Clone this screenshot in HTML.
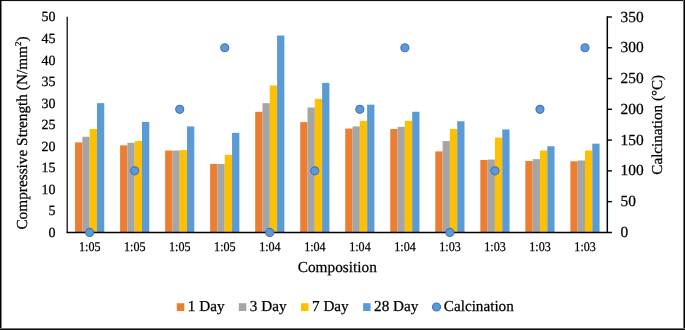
<!DOCTYPE html>
<html><head><meta charset="utf-8"><style>
html,body{margin:0;padding:0;background:#fff;}
.frame{position:relative;width:685px;height:330px;overflow:hidden;}
svg{position:absolute;left:0;top:0;will-change:transform;}
text{font-family:"Liberation Serif", serif;fill:#000;text-rendering:geometricPrecision;stroke:#000;stroke-width:0.25px;}
</style></head><body><div class="frame">
<svg width="685" height="330" viewBox="0 0 685 330">
<rect x="75.06" y="142.36" width="7.30" height="90.04" fill="#ED7D31"/>
<rect x="82.36" y="136.76" width="7.30" height="95.64" fill="#A5A5A5"/>
<rect x="89.66" y="129.01" width="7.30" height="103.39" fill="#FFC000"/>
<rect x="96.96" y="103.16" width="7.30" height="129.24" fill="#5B9BD5"/>
<rect x="120.09" y="145.38" width="7.30" height="87.02" fill="#ED7D31"/>
<rect x="127.39" y="142.79" width="7.30" height="89.61" fill="#A5A5A5"/>
<rect x="134.69" y="141.07" width="7.30" height="91.33" fill="#FFC000"/>
<rect x="141.99" y="121.90" width="7.30" height="110.50" fill="#5B9BD5"/>
<rect x="165.12" y="150.55" width="7.30" height="81.85" fill="#ED7D31"/>
<rect x="172.42" y="150.55" width="7.30" height="81.85" fill="#A5A5A5"/>
<rect x="179.72" y="150.12" width="7.30" height="82.28" fill="#FFC000"/>
<rect x="187.02" y="126.42" width="7.30" height="105.98" fill="#5B9BD5"/>
<rect x="210.15" y="163.90" width="7.30" height="68.50" fill="#ED7D31"/>
<rect x="217.45" y="163.90" width="7.30" height="68.50" fill="#A5A5A5"/>
<rect x="224.75" y="154.86" width="7.30" height="77.54" fill="#FFC000"/>
<rect x="232.05" y="132.89" width="7.30" height="99.51" fill="#5B9BD5"/>
<rect x="255.18" y="111.78" width="7.30" height="120.62" fill="#ED7D31"/>
<rect x="262.48" y="103.16" width="7.30" height="129.24" fill="#A5A5A5"/>
<rect x="269.78" y="85.50" width="7.30" height="146.90" fill="#FFC000"/>
<rect x="277.08" y="35.52" width="7.30" height="196.88" fill="#5B9BD5"/>
<rect x="300.21" y="122.12" width="7.30" height="110.28" fill="#ED7D31"/>
<rect x="307.51" y="107.47" width="7.30" height="124.93" fill="#A5A5A5"/>
<rect x="314.81" y="98.85" width="7.30" height="133.55" fill="#FFC000"/>
<rect x="322.11" y="82.91" width="7.30" height="149.49" fill="#5B9BD5"/>
<rect x="345.24" y="128.58" width="7.30" height="103.82" fill="#ED7D31"/>
<rect x="352.54" y="126.42" width="7.30" height="105.98" fill="#A5A5A5"/>
<rect x="359.84" y="120.82" width="7.30" height="111.58" fill="#FFC000"/>
<rect x="367.14" y="104.67" width="7.30" height="127.73" fill="#5B9BD5"/>
<rect x="390.27" y="129.01" width="7.30" height="103.39" fill="#ED7D31"/>
<rect x="397.57" y="126.85" width="7.30" height="105.55" fill="#A5A5A5"/>
<rect x="404.87" y="120.82" width="7.30" height="111.58" fill="#FFC000"/>
<rect x="412.17" y="111.78" width="7.30" height="120.62" fill="#5B9BD5"/>
<rect x="435.30" y="151.41" width="7.30" height="80.99" fill="#ED7D31"/>
<rect x="442.60" y="141.07" width="7.30" height="91.33" fill="#A5A5A5"/>
<rect x="449.90" y="129.01" width="7.30" height="103.39" fill="#FFC000"/>
<rect x="457.20" y="121.25" width="7.30" height="111.15" fill="#5B9BD5"/>
<rect x="480.33" y="160.03" width="7.30" height="72.37" fill="#ED7D31"/>
<rect x="487.63" y="159.59" width="7.30" height="72.81" fill="#A5A5A5"/>
<rect x="494.93" y="137.62" width="7.30" height="94.78" fill="#FFC000"/>
<rect x="502.23" y="129.44" width="7.30" height="102.96" fill="#5B9BD5"/>
<rect x="525.36" y="161.06" width="7.30" height="71.34" fill="#ED7D31"/>
<rect x="532.66" y="159.16" width="7.30" height="73.24" fill="#A5A5A5"/>
<rect x="539.96" y="150.55" width="7.30" height="81.85" fill="#FFC000"/>
<rect x="547.26" y="146.24" width="7.30" height="86.16" fill="#5B9BD5"/>
<rect x="570.39" y="161.32" width="7.30" height="71.08" fill="#ED7D31"/>
<rect x="577.69" y="160.46" width="7.30" height="71.94" fill="#A5A5A5"/>
<rect x="584.99" y="150.55" width="7.30" height="81.85" fill="#FFC000"/>
<rect x="592.29" y="143.66" width="7.30" height="88.74" fill="#5B9BD5"/>
<path d="M67.25 16.70 V232.40" fill="none" stroke="#303030" stroke-width="1.5"/>
<path d="M66.50 232.40 H611.90" fill="none" stroke="#000" stroke-width="1.45"/>
<path d="M607.30 16.30 V232.40" fill="none" stroke="#000" stroke-width="1.5"/>
<path d="M607.30 201.63 H611.90" stroke="#000" stroke-width="1.4"/>
<path d="M607.30 170.86 H611.90" stroke="#000" stroke-width="1.4"/>
<path d="M607.30 140.09 H611.90" stroke="#000" stroke-width="1.4"/>
<path d="M607.30 109.31 H611.90" stroke="#000" stroke-width="1.4"/>
<path d="M607.30 78.54 H611.90" stroke="#000" stroke-width="1.4"/>
<path d="M607.30 47.77 H611.90" stroke="#000" stroke-width="1.4"/>
<path d="M607.30 17.00 H611.90" stroke="#000" stroke-width="1.4"/>
<circle cx="89.66" cy="232.40" r="4.0" fill="#5B9BD5" stroke="#4472C4" stroke-width="1.15"/>
<circle cx="134.69" cy="170.86" r="4.0" fill="#5B9BD5" stroke="#4472C4" stroke-width="1.15"/>
<circle cx="179.72" cy="109.31" r="4.0" fill="#5B9BD5" stroke="#4472C4" stroke-width="1.15"/>
<circle cx="224.75" cy="47.77" r="4.0" fill="#5B9BD5" stroke="#4472C4" stroke-width="1.15"/>
<circle cx="269.78" cy="232.40" r="4.0" fill="#5B9BD5" stroke="#4472C4" stroke-width="1.15"/>
<circle cx="314.81" cy="170.86" r="4.0" fill="#5B9BD5" stroke="#4472C4" stroke-width="1.15"/>
<circle cx="359.84" cy="109.31" r="4.0" fill="#5B9BD5" stroke="#4472C4" stroke-width="1.15"/>
<circle cx="404.87" cy="47.77" r="4.0" fill="#5B9BD5" stroke="#4472C4" stroke-width="1.15"/>
<circle cx="449.90" cy="232.40" r="4.0" fill="#5B9BD5" stroke="#4472C4" stroke-width="1.15"/>
<circle cx="494.93" cy="170.86" r="4.0" fill="#5B9BD5" stroke="#4472C4" stroke-width="1.15"/>
<circle cx="539.96" cy="109.31" r="4.0" fill="#5B9BD5" stroke="#4472C4" stroke-width="1.15"/>
<circle cx="584.99" cy="47.77" r="4.0" fill="#5B9BD5" stroke="#4472C4" stroke-width="1.15"/>
<text x="55.5" y="232.10" dy="0.34em" text-anchor="end" font-size="14">0</text>
<text x="55.5" y="210.56" dy="0.34em" text-anchor="end" font-size="14">5</text>
<text x="55.5" y="189.02" dy="0.34em" text-anchor="end" font-size="14">10</text>
<text x="55.5" y="167.48" dy="0.34em" text-anchor="end" font-size="14">15</text>
<text x="55.5" y="145.94" dy="0.34em" text-anchor="end" font-size="14">20</text>
<text x="55.5" y="124.40" dy="0.34em" text-anchor="end" font-size="14">25</text>
<text x="55.5" y="102.86" dy="0.34em" text-anchor="end" font-size="14">30</text>
<text x="55.5" y="81.32" dy="0.34em" text-anchor="end" font-size="14">35</text>
<text x="55.5" y="59.78" dy="0.34em" text-anchor="end" font-size="14">40</text>
<text x="55.5" y="38.24" dy="0.34em" text-anchor="end" font-size="14">45</text>
<text x="55.5" y="16.70" dy="0.34em" text-anchor="end" font-size="14">50</text>
<text x="620.5" y="231.80" dy="0.34em" text-anchor="start" font-size="15.4">0</text>
<text x="620.5" y="201.03" dy="0.34em" text-anchor="start" font-size="15.4">50</text>
<text x="620.5" y="170.26" dy="0.34em" text-anchor="start" font-size="15.4">100</text>
<text x="620.5" y="139.49" dy="0.34em" text-anchor="start" font-size="15.4">150</text>
<text x="620.5" y="108.71" dy="0.34em" text-anchor="start" font-size="15.4">200</text>
<text x="620.5" y="77.94" dy="0.34em" text-anchor="start" font-size="15.4">250</text>
<text x="620.5" y="47.17" dy="0.34em" text-anchor="start" font-size="15.4">300</text>
<text x="620.5" y="16.40" dy="0.34em" text-anchor="start" font-size="15.4">350</text>
<text transform="translate(89.76 251.2) scale(0.91 1)" text-anchor="middle" font-size="13.3">1:05</text>
<text transform="translate(134.79 251.2) scale(0.91 1)" text-anchor="middle" font-size="13.3">1:05</text>
<text transform="translate(179.82 251.2) scale(0.91 1)" text-anchor="middle" font-size="13.3">1:05</text>
<text transform="translate(224.85 251.2) scale(0.91 1)" text-anchor="middle" font-size="13.3">1:05</text>
<text transform="translate(269.88 251.2) scale(0.91 1)" text-anchor="middle" font-size="13.3">1:04</text>
<text transform="translate(314.91 251.2) scale(0.91 1)" text-anchor="middle" font-size="13.3">1:04</text>
<text transform="translate(359.94 251.2) scale(0.91 1)" text-anchor="middle" font-size="13.3">1:04</text>
<text transform="translate(404.97 251.2) scale(0.91 1)" text-anchor="middle" font-size="13.3">1:04</text>
<text transform="translate(450.00 251.2) scale(0.91 1)" text-anchor="middle" font-size="13.3">1:03</text>
<text transform="translate(495.03 251.2) scale(0.91 1)" text-anchor="middle" font-size="13.3">1:03</text>
<text transform="translate(540.06 251.2) scale(0.91 1)" text-anchor="middle" font-size="13.3">1:03</text>
<text transform="translate(585.09 251.2) scale(0.91 1)" text-anchor="middle" font-size="13.3">1:03</text>
<text x="337.3" y="272" text-anchor="middle" font-size="15.3">Composition</text>
<text transform="translate(27.3 133) rotate(-90)" text-anchor="middle" font-size="15.3">Compressive Strength (N/mm<tspan font-size="9" dy="-6">2</tspan><tspan dy="6">)</tspan></text>
<text transform="translate(661.8 124.75) rotate(-90)" text-anchor="middle" font-size="15.15">Calcination (°C)</text>
<rect x="176.80" y="303.2" width="7.5" height="7.8" fill="#ED7D31"/>
<text x="187.80" y="311.4" font-size="15.2">1 Day</text>
<rect x="238.80" y="303.2" width="7.5" height="7.8" fill="#A5A5A5"/>
<text x="249.80" y="311.4" font-size="15.2">3 Day</text>
<rect x="301.00" y="303.2" width="7.5" height="7.8" fill="#FFC000"/>
<text x="312.00" y="311.4" font-size="15.2">7 Day</text>
<rect x="363.10" y="303.2" width="7.5" height="7.8" fill="#5B9BD5"/>
<text x="374.10" y="311.4" font-size="15.2">28 Day</text>
<circle cx="436.50" cy="307" r="4.0" fill="#5B9BD5" stroke="#4472C4" stroke-width="1.15"/>
<text x="443.80" y="311.4" font-size="15.2">Calcination</text>
<g shape-rendering="crispEdges">
<rect x="0" y="0" width="685" height="1" fill="#111"/>
<rect x="0" y="1" width="685" height="1" fill="#e8e8e8"/>
<rect x="0" y="0" width="1" height="330" fill="#000"/>
<rect x="1" y="1" width="1" height="328" fill="#858585"/>
<rect x="683" y="0" width="1" height="330" fill="#6e6e6e"/>
<rect x="684" y="0" width="1" height="330" fill="#000"/>
<rect x="0" y="328" width="685" height="1" fill="#6e6e6e"/>
<rect x="0" y="329" width="685" height="1" fill="#141414"/>
</g>
</svg></div></body></html>
